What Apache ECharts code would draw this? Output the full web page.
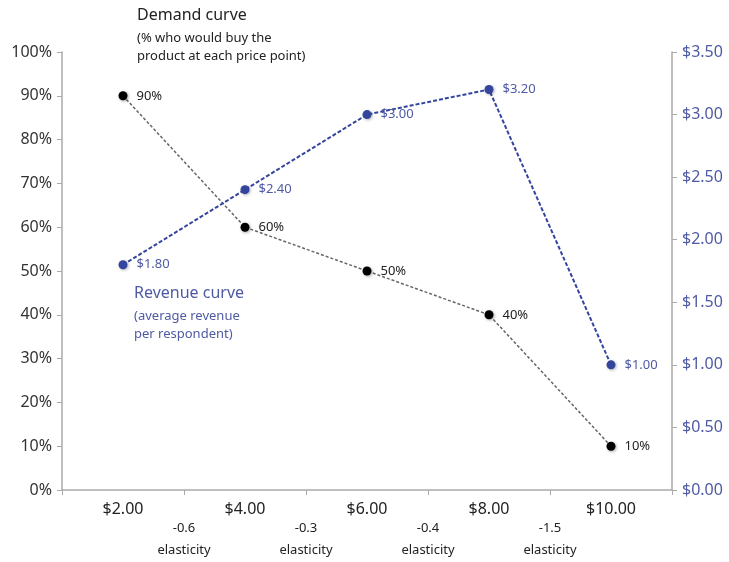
<!DOCTYPE html>
<html lang="en">
<head>
    <meta charset="UTF-8">
    <script src="https://cdn.jsdelivr.net/npm/echarts@6/dist/echarts.min.js"></script>
    <title>Demand and revenue curves</title>
</head>
<body style="margin:0">
    <div id="chart" style="width:729px;height:562px;background:#fff"></div>
    <script>
var prices = ['$2.00', '$4.00', '$6.00', '$8.00', '$10.00'];
var demand = [90, 60, 50, 40, 10];
var revenue = [1.80, 2.40, 3.00, 3.20, 1.00];
var elasticity = ['-0.6', '-0.3', '-0.4', '-1.5'];

var font = 'Noto Sans';
var blue = '#34459e';
var blueText = '#4f5aa3';

var myChart = echarts.init(document.getElementById('chart'));

var option = {
  backgroundColor: '#fff',
  textStyle: { fontFamily: font },
  grid: { left: 62, right: 57, top: 52, bottom: 72 },
  xAxis: {
    type: 'category',
    data: prices,
    boundaryGap: true,
    axisLine: { lineStyle: { color: '#aaa', width: 1.5 } },
    axisTick: { show: true, length: 5, lineStyle: { color: '#aaa' } },
    axisLabel: { color: '#222', fontSize: 16, margin: 11, fontFamily: font }
  },
  yAxis: [
    {
      type: 'value', min: 0, max: 100, interval: 10,
      axisLine: { show: true, lineStyle: { color: '#aaa', width: 1.5 } },
      axisTick: { show: true, length: 5, lineStyle: { color: '#aaa' } },
      splitLine: { show: false },
      axisLabel: { color: '#333', fontSize: 16, margin: 10, fontFamily: font, formatter: '{value}%' }
    },
    {
      type: 'value', min: 0, max: 3.5, interval: 0.5, position: 'right',
      axisLine: { show: true, lineStyle: { color: '#aaa', width: 1.5 } },
      axisTick: { show: true, length: 5, lineStyle: { color: '#aaa' } },
      splitLine: { show: false },
      axisLabel: { color: blueText, fontSize: 16, margin: 10, fontFamily: font,
        formatter: function (v) { return '$' + v.toFixed(2); } }
    }
  ],
  series: [
    {
      name: 'Demand', type: 'line', yAxisIndex: 0, data: demand,
      symbol: 'circle', symbolSize: 9,
      itemStyle: { color: '#000', shadowColor: 'rgba(0,0,0,0.35)', shadowBlur: 3, shadowOffsetX: 1, shadowOffsetY: 1 },
      lineStyle: { color: '#666', width: 1.5, type: [3, 2] },
      label: { show: true, position: 'right', distance: 9, color: '#222', fontSize: 13,
        formatter: '{c}%' }
    },
    {
      name: 'Revenue', type: 'line', yAxisIndex: 1, data: revenue,
      symbol: 'circle', symbolSize: 9,
      itemStyle: { color: blue, shadowColor: 'rgba(0,0,0,0.3)', shadowBlur: 3, shadowOffsetX: 1, shadowOffsetY: 1 },
      lineStyle: { color: blue, width: 2, type: [4, 2] },
      label: { show: true, position: 'right', distance: 9, color: blueText, fontSize: 13,
        formatter: function (p) { return '$' + p.value.toFixed(2); } }
    }
  ],
  graphic: [
    { type: 'text', left: 137, top: 7, style: { text: 'Demand curve', fill: '#222', font: '16px ' + font } },
    { type: 'text', left: 137, top: 29, style: { text: '(% who would buy the\nproduct at each price point)', fill: '#222', font: '13px ' + font, lineHeight: 18 } },
    { type: 'text', left: 134, top: 285, style: { text: 'Revenue curve', fill: blueText, font: '16px ' + font } },
    { type: 'text', left: 134, top: 307, style: { text: '(average revenue\nper respondent)', fill: blueText, font: '13px ' + font, lineHeight: 18 } }
  ]
};
myChart.setOption(option);

// elasticity notes sit halfway between neighbouring price points
var notes = elasticity.map(function (e, i) {
  var a = myChart.convertToPixel({ xAxisIndex: 0 }, i);
  var b = myChart.convertToPixel({ xAxisIndex: 0 }, i + 1);
  return {
    type: 'text', x: (a + b) / 2, y: 517,
    style: { text: e + '\nelasticity', fill: '#222', font: '13px ' + font, align: 'center', lineHeight: 22 }
  };
});
myChart.setOption({ graphic: option.graphic.concat(notes) });
    </script>
</body>
</html>
